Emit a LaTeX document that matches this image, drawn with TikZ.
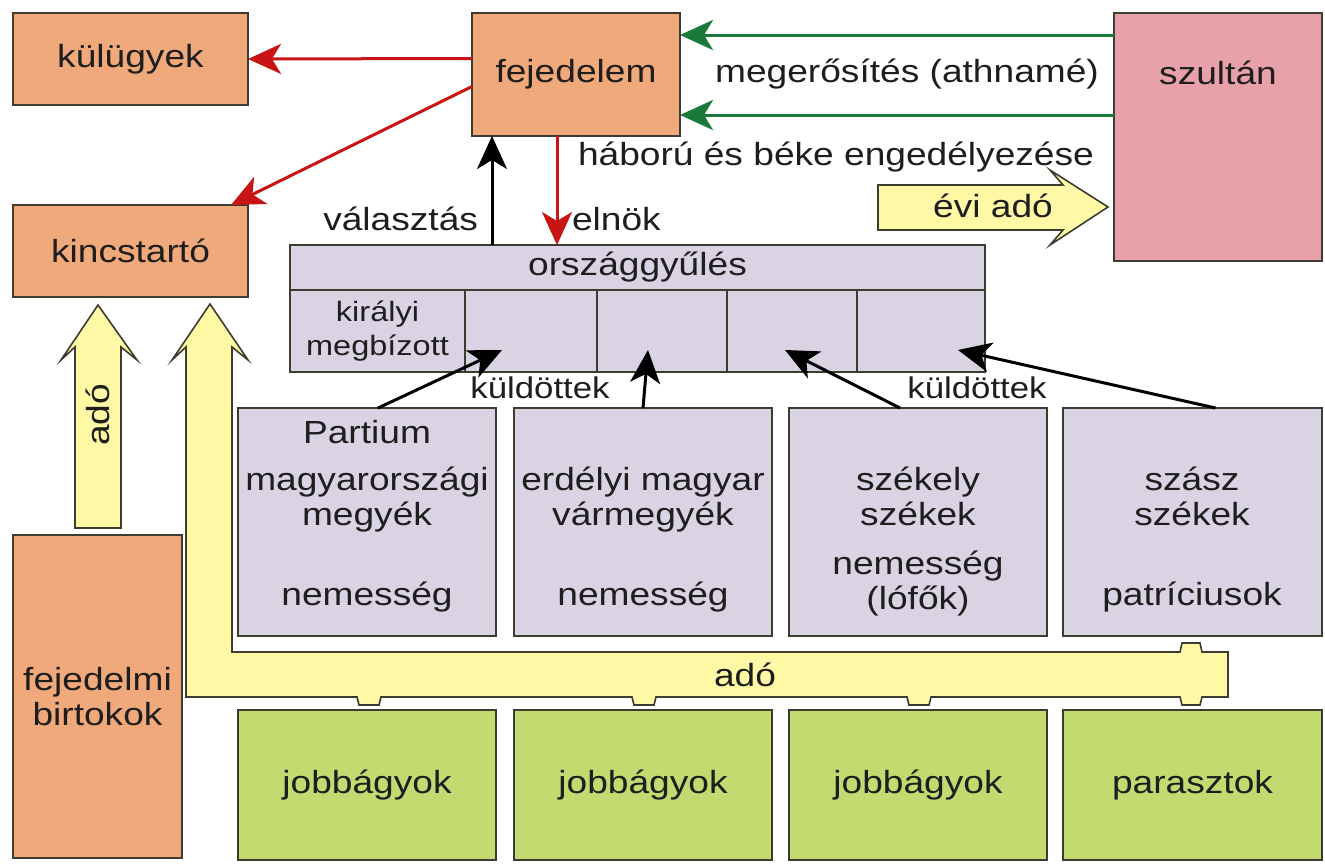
\documentclass[tikz,border=0pt]{standalone}
\usepackage{fontspec}
\setmainfont{Liberation Sans}[FakeStretch=1.16]
\usetikzlibrary{arrows.meta,calc}
\definecolor{orng}{HTML}{F0A97A}
\definecolor{pink}{HTML}{E8A1A9}
\definecolor{purp}{HTML}{DAD3E4}
\definecolor{grn}{HTML}{C2DA70}
\definecolor{yel}{HTML}{FFF9A6}
\definecolor{bord}{HTML}{3C3C30}
\definecolor{redarr}{HTML}{C81414}
\definecolor{grnarr}{HTML}{1A7A3C}
\definecolor{txt}{HTML}{1E1E1E}
\tikzset{
  box/.style={draw=bord, line width=1.6pt, inner sep=0pt, outer sep=0pt, anchor=north west,
    text=txt, font=\fontsize{32}{35}\selectfont, align=center},
  lbl/.style={inner sep=0pt, outer sep=0pt, text=txt, font=\fontsize{32}{35}\selectfont},
  arr/.style={-{Stealth[length=33pt,width=30pt,inset=9pt]}, line width=3pt},
  redarrow/.style={arr, draw=redarr, fill=redarr},
  grnarrow/.style={arr, draw=grnarr, fill=grnarr},
  blkarrow/.style={arr, draw=black, fill=black},
  yarrow/.style={draw=bord, line width=1.6pt, fill=yel, line join=miter}
}
\begin{document}
\begin{tikzpicture}[x=1pt,y=-1pt]
\useasboundingbox (0,0) rectangle (1325,865);
\fill[white] (0,0) rectangle (1325,865);

% yellow arrows
\draw[yarrow] (186,697) -- (186,347) -- (172,360) -- (210,304) -- (248,360) -- (232,347)
  -- (232,652) -- (1180,652) -- (1182,643) -- (1200,643) -- (1202,652) -- (1228,652)
  -- (1228,697) -- (1202,697) -- (1200,705) -- (1182,705) -- (1180,697)
  -- (931,697) -- (929,705) -- (909,705) -- (907,697)
  -- (656,697) -- (654,705) -- (634,705) -- (632,697)
  -- (381,697) -- (379,705) -- (359,705) -- (357,697) -- cycle;
\draw[yarrow] (75,528) -- (75,347) -- (61,360) -- (98,305) -- (137,360) -- (121,347) -- (121,528) -- cycle;
\draw[yarrow] (878,185) -- (1063,185) -- (1050,170) -- (1108,207) -- (1050,245) -- (1063,230) -- (878,230) -- cycle;
\node[lbl, rotate=90] (adoa) at (98,415) {adó};
\node[lbl] (adob) at (745,675) {adó};
\node[lbl, anchor=base] (evi) at (993,217) {évi adó};

% boxes
\node[box, fill=orng, minimum width=235, minimum height=92] (kul) at (13,13) {külügyek};
\node[box, fill=orng, minimum width=235, minimum height=92] (kin) at (13,205) {kincstartó};
\node[box, fill=orng, minimum width=208, minimum height=123] (fej) at (472,13) {fejedelem};
\node[box, fill=pink, minimum width=208, minimum height=248] (szu) at (1114,13) {};
\node[lbl] (szut) at (1218,73) {szultán};
\node[box, fill=orng, minimum width=169, minimum height=323] (bir) at (13,535) {fejedelmi\\birtokok};

% orszaggyules
\node[box, fill=purp, minimum width=695, minimum height=45] (ors) at (290,245) {országgyűlés};
\node[box, fill=purp, minimum width=175, minimum height=82, font=\fontsize{28}{34}\selectfont] (c1) at (290,290) {királyi\\megbízott};
\node[box, fill=purp, minimum width=132, minimum height=82] (c2) at (465,290) {};
\node[box, fill=purp, minimum width=130, minimum height=82] (c3) at (597,290) {};
\node[box, fill=purp, minimum width=130, minimum height=82] (c4) at (727,290) {};
\node[box, fill=purp, minimum width=128, minimum height=82] (c5) at (857,290) {};

% estates
\node[box, fill=purp, minimum width=258, minimum height=228] (p1) at (238,408) {};
\node[box, fill=purp, minimum width=258, minimum height=228] (p2) at (514,408) {};
\node[box, fill=purp, minimum width=258, minimum height=228] (p3) at (789,408) {};
\node[box, fill=purp, minimum width=259, minimum height=228] (p4) at (1063,408) {};

\node[lbl, anchor=base] (p1a) at (367,443) {Partium};
\node[lbl, anchor=base] (p1b) at (367,490) {magyarországi};
\node[lbl, anchor=base] (p1c) at (367,525) {megyék};
\node[lbl, anchor=base] (p1d) at (367,605) {nemesség};
\node[lbl, anchor=base] (p2a) at (643,490) {erdélyi magyar};
\node[lbl, anchor=base] (p2b) at (643,525) {vármegyék};
\node[lbl, anchor=base] (p2c) at (643,605) {nemesség};
\node[lbl, anchor=base] (p3a) at (918,490) {székely};
\node[lbl, anchor=base] (p3b) at (918,525) {székek};
\node[lbl, anchor=base] (p3c) at (918,574) {nemesség};
\node[lbl, anchor=base] (p3d) at (918,609) {(lófők)};
\node[lbl, anchor=base] (p4a) at (1192,490) {szász};
\node[lbl, anchor=base] (p4b) at (1192,525) {székek};
\node[lbl, anchor=base] (p4c) at (1192,605) {patríciusok};

\node[box, fill=grn, minimum width=258, minimum height=150] (g1) at (238,710) {jobbágyok};
\node[box, fill=grn, minimum width=258, minimum height=150] (g2) at (514,710) {jobbágyok};
\node[box, fill=grn, minimum width=258, minimum height=150] (g3) at (789,710) {jobbágyok};
\node[box, fill=grn, minimum width=259, minimum height=150] (g4) at (1063,710) {parasztok};

% top arrows
\draw[redarrow] ([yshift=16pt]fej.west) -- (kul.east);
\draw[redarrow] ([yshift=-12pt]fej.west) -- ([xshift=-17pt]kin.north east);
\draw[redarrow] ([xshift=-19pt]fej.south) -- ([xshift=-19pt]fej.south |- ors.north);
\draw[blkarrow] ([xshift=-84pt]fej.south |- ors.north) -- ([xshift=-84pt]fej.south);
\draw[grnarrow] ([yshift=-22pt]szu.north west) -- ([yshift=-22pt]szu.north west -| fej.east);
\draw[grnarrow] ([yshift=-102pt]szu.north west) -- ([yshift=-102pt]szu.north west -| fej.east);

\node[lbl, anchor=base] (meg) at (907,82) {megerősítés (athnamé)};
\node[lbl, anchor=base west] (hab) at (578,165) {háború és béke engedélyezése};
\node[lbl, anchor=base east] (val) at (478,230) {választás};
\node[lbl, anchor=base west] (eln) at (572,230) {elnök};

% delegates
\coordinate (t2) at (502,350);
\coordinate (t3) at (648,350);
\coordinate (t4) at (785,350);
\coordinate (t5) at (958,350);
\draw[blkarrow] ([xshift=11pt]p1.north) -- (t2);
\draw[blkarrow] (p2.north) -- (t3);
\draw[blkarrow] ([xshift=-18pt]p3.north) -- (t4);
\draw[blkarrow] ([xshift=23pt]p4.north) -- (t5);
\node[lbl, anchor=base, font=\fontsize{30}{35}\selectfont] (kd1) at (540,398) {küldöttek};
\node[lbl, anchor=base, font=\fontsize{30}{35}\selectfont] (kd2) at (977,398) {küldöttek};
\end{tikzpicture}
\end{document}
